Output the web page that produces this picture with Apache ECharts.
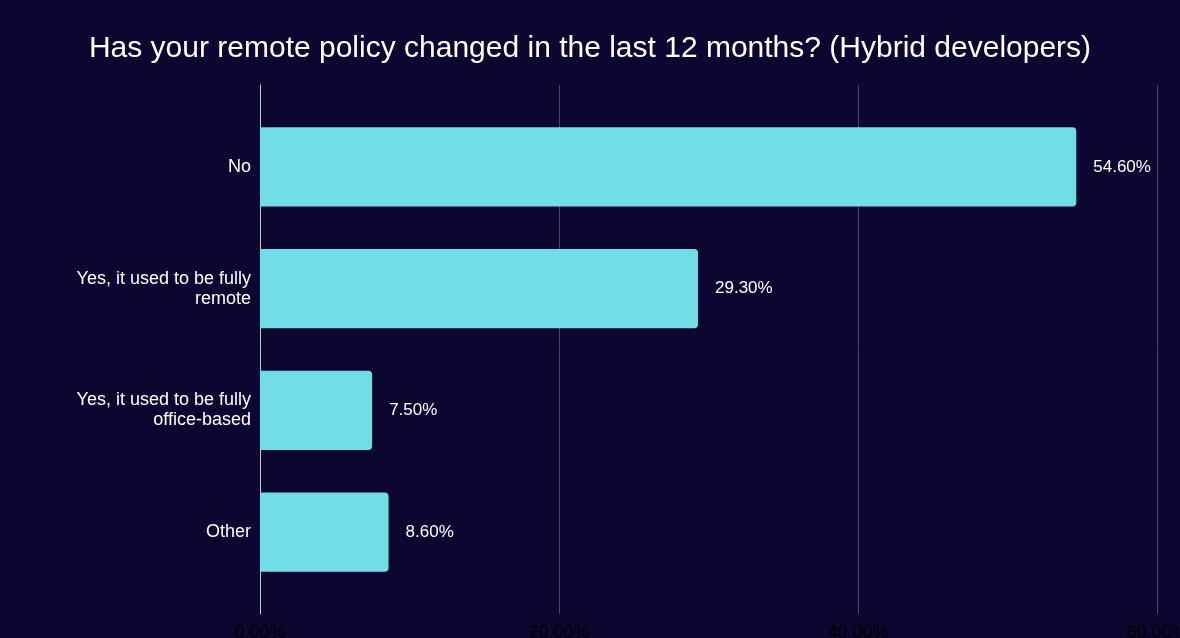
<!DOCTYPE html>
<html><head><meta charset="utf-8">
<style>html,body{margin:0;padding:0;background:#0c0730;}#c{width:1180px;height:638px;}</style>
<script src="https://cdn.jsdelivr.net/npm/echarts@6/dist/echarts.min.js"></script>
</head><body><div id="c"></div>
<script>
const categories = ["No", "Yes, it used to be fully\nremote", "Yes, it used to be fully\noffice-based", "Other"];
const values = [54.6, 29.3, 7.5, 8.6];
const tickMax = 60;
const tickStep = 20;

const chart = echarts.init(document.getElementById('c'), null, {renderer: 'canvas'});
const font = 'Liberation Sans, Arial, sans-serif';
chart.setOption({
  backgroundColor: '#0c0730',
  animation: false,
  title: {
    text: 'Has your remote policy changed in the last 12 months? (Hybrid developers)',
    left: 'center', top: 29,
    textStyle: {color: '#ffffff', fontSize: 30, fontWeight: 'normal', fontFamily: font}
  },
  grid: [
    {left: 260, right: 23, top: 106, bottom: 45, containLabel: false, outerBoundsMode: 'none'},
    {left: 260, right: 23, top: 85, bottom: 24, containLabel: false, outerBoundsMode: 'none'}
  ],
  xAxis: [
    {gridIndex: 0, type: 'value', min: 0, max: tickMax, interval: tickStep,
     axisLabel: {show: false}, splitLine: {show: false}, axisLine: {show: false}, axisTick: {show: false}},
    {gridIndex: 1, type: 'value', min: 0, max: tickMax, interval: tickStep,
     axisLabel: {show: true, color: '#000000', fontSize: 18, fontFamily: font, margin: 10,
       formatter: v => v.toFixed(2) + '%'},
     splitLine: {show: true, lineStyle: {color: '#4a4668', width: 1}},
     axisLine: {show: false}, axisTick: {show: false}}
  ],
  yAxis: [
    {gridIndex: 0, type: 'category', data: categories, inverse: true,
     axisLabel: {color: '#ffffff', fontSize: 18, fontFamily: font, margin: 9, lineHeight: 20, align: 'right'},
     axisLine: {show: false}, axisTick: {show: false}, splitLine: {show: false}},
    {gridIndex: 1, type: 'value', min: 0, max: 1,
     axisLabel: {show: false}, splitLine: {show: false}, axisTick: {show: false},
     axisLine: {show: true, lineStyle: {color: '#c8c8d0', width: 1}}}
  ],
  series: [{
    type: 'bar', xAxisIndex: 0, yAxisIndex: 0,
    data: values, barWidth: '65%',
    itemStyle: {color: '#71dde6', borderRadius: [0, 4, 4, 0]},
    label: {show: true, position: 'right', distance: 17, color: '#ffffff', fontSize: 17, fontFamily: font,
      formatter: p => p.value.toFixed(2) + '%'}
  }]
});
</script></body></html>
